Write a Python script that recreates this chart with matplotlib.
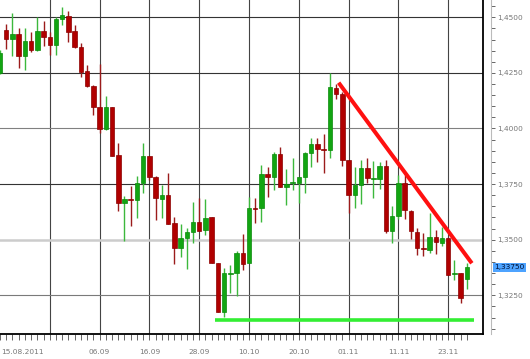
import numpy as np
import pandas as pd
import matplotlib
matplotlib.use("Agg")
import matplotlib.pyplot as plt
import matplotlib.transforms as mtransforms
from matplotlib.ticker import MultipleLocator, FuncFormatter

# daily EUR/USD candles, 15.08.2011 .. 28.11.2011
dates = pd.bdate_range("2011-08-15", "2011-11-28")

opens = [1.4250, 1.4443, 1.4402, 1.4425, 1.4327, 1.4392, 1.4353, 1.4438, 1.4413, 1.4375,
         1.4494, 1.4507, 1.4438, 1.4368, 1.4260, 1.4192, 1.4095, 1.3998, 1.4095, 1.3880,
         1.3664, 1.3684, 1.3679, 1.3754, 1.3876, 1.3783, 1.3684, 1.3702, 1.3574, 1.3464,
         1.3506, 1.3533, 1.3581, 1.3544, 1.3601, 1.3394, 1.3176, 1.3347, 1.3349, 1.3439,
         1.3394, 1.3642, 1.3641, 1.3795, 1.3780, 1.3884, 1.3738, 1.3755, 1.3754, 1.3781,
         1.3891, 1.3929, 1.3907, 1.3903, 1.4184, 1.4154, 1.3858, 1.3701, 1.3746, 1.3824,
         1.3772, 1.3773, 1.3831, 1.3541, 1.3607, 1.3754, 1.3631, 1.3536, 1.3459, 1.3454,
         1.3514, 1.3487, 1.3506, 1.3344, 1.3349, 1.3322]
highs = [1.4352, 1.4470, 1.4518, 1.4451, 1.4451, 1.4434, 1.4500, 1.4483, 1.4433, 1.4500,
         1.4548, 1.4530, 1.4465, 1.4386, 1.4286, 1.4195, 1.4290, 1.4147, 1.4097, 1.3936,
         1.3697, 1.3742, 1.3786, 1.3936, 1.3878, 1.3785, 1.3745, 1.3799, 1.3603, 1.3569,
         1.3551, 1.3671, 1.3686, 1.3682, 1.3601, 1.3394, 1.3372, 1.3386, 1.3451, 1.3526,
         1.3693, 1.3686, 1.3836, 1.3828, 1.3896, 1.3916, 1.3817, 1.3869, 1.3783, 1.3893,
         1.3956, 1.3956, 1.3975, 1.4248, 1.4199, 1.4165, 1.3860, 1.3828, 1.3858, 1.3869,
         1.3854, 1.3851, 1.3858, 1.3652, 1.3791, 1.3791, 1.3632, 1.3551, 1.3529, 1.3621,
         1.3544, 1.3556, 1.3510, 1.3409, 1.3350, 1.3394]
lows = [1.4245, 1.4357, 1.4327, 1.4273, 1.4263, 1.4345, 1.4350, 1.4372, 1.4330, 1.4330,
        1.4465, 1.4388, 1.4361, 1.4230, 1.4185, 1.4061, 1.3978, 1.3993, 1.3875, 1.3630,
        1.3494, 1.3563, 1.3596, 1.3709, 1.3769, 1.3589, 1.3596, 1.3570, 1.3389, 1.3424,
        1.3367, 1.3484, 1.3540, 1.3521, 1.3394, 1.3175, 1.3154, 1.3259, 1.3247, 1.3364,
        1.3394, 1.3574, 1.3581, 1.3691, 1.3724, 1.3735, 1.3656, 1.3724, 1.3664, 1.3709,
        1.3826, 1.3851, 1.3799, 1.3866, 1.4133, 1.3831, 1.3619, 1.3641, 1.3661, 1.3754,
        1.3686, 1.3727, 1.3532, 1.3487, 1.3592, 1.3592, 1.3502, 1.3431, 1.3427, 1.3439,
        1.3436, 1.3472, 1.3342, 1.3319, 1.3217, 1.3277]
closes = [1.4340, 1.4402, 1.4425, 1.4327, 1.4392, 1.4353, 1.4438, 1.4413, 1.4375, 1.4492,
          1.4509, 1.4435, 1.4368, 1.4255, 1.4191, 1.4095, 1.3998, 1.4095, 1.3878, 1.3664,
          1.3683, 1.3679, 1.3756, 1.3876, 1.3783, 1.3686, 1.3702, 1.3571, 1.3464, 1.3506,
          1.3533, 1.3581, 1.3541, 1.3599, 1.3394, 1.3176, 1.3349, 1.3350, 1.3439, 1.3391,
          1.3641, 1.3640, 1.3795, 1.3781, 1.3884, 1.3736, 1.3750, 1.3758, 1.3781, 1.3891,
          1.3930, 1.3907, 1.3902, 1.4185, 1.4154, 1.3858, 1.3701, 1.3746, 1.3824, 1.3776,
          1.3775, 1.3831, 1.3541, 1.3607, 1.3754, 1.3634, 1.3541, 1.3461, 1.3457, 1.3514,
          1.3491, 1.3508, 1.3343, 1.3346, 1.3237, 1.3375]

label_dates = ["2011-09-06", "2011-09-16", "2011-09-28", "2011-10-10",
               "2011-10-20", "2011-11-01", "2011-11-11", "2011-11-23"]
label_texts = ["06.09", "16.09", "28.09", "10.10", "20.10", "01.11", "11.11", "23.11"]
first_label = "15.08.2011"
last_price = 1.3375

# hand drawn lines (bar position, price)
trend_x = [54.4, 75.8]
trend_y = [1.4206, 1.3394]
support_x = [34.6, 76.2]
support_y = 1.3139

O = np.array(opens)
H = np.array(highs)
L = np.array(lows)
C = np.array(closes)
x = np.arange(len(dates))
up = C >= O

fig = plt.figure(figsize=(5.3, 3.59), dpi=100)
ax = fig.add_axes([0, 0.0688, 0.9119, 0.9312])
ylim = (1.30746, 1.45778)

# grid
grid_x = x[8::8]
for g in grid_x:
    ax.axvline(g, color="#444444", lw=0.8, zorder=1)
hlevels = [1.45, 1.425, 1.40, 1.375, 1.35, 1.325]
hcolors = ["#333333", "#333333", "#808080", "#333333", "#cccccc", "#7a7a7a"]
hwidths = [0.8, 0.8, 0.8, 0.8, 1.8, 0.8]
for v, c, w in zip(hlevels, hcolors, hwidths):
    ax.axhline(v, color=c, lw=w, zorder=1)

wick_c = np.where(up, "#3cb83c", "#9b1b1b")
body_c = np.where(up, "#12a512", "#b00000")
edge_c = np.where(up, "#0b8a0b", "#8b0000")
ax.vlines(x, L, H, colors=wick_c, lw=1, zorder=3)
ax.bar(x, np.maximum(np.abs(C - O), 0.0004), bottom=np.minimum(O, C), width=0.72,
       color=body_c, edgecolor=edge_c, linewidth=0.5, zorder=4)

ax.plot(trend_x, trend_y, color="#ff1010", lw=2.9, solid_capstyle="butt", zorder=6)
ax.plot(support_x, [support_y] * 2, color="#33ee33", lw=2.6, solid_capstyle="butt", zorder=6)

ax.set_xlim(0.312, 77.64)
ax.set_ylim(*ylim)
for s in ["left", "top"]:
    ax.spines[s].set_visible(False)
for s in ["right", "bottom"]:
    ax.spines[s].set_color("black")
    ax.spines[s].set_linewidth(1.3)
ax.set_yticks([])
ax.set_xticks(grid_x)
ax.set_xticks(x, minor=True)
ax.tick_params(axis="x", which="both", direction="out", length=4, width=0.7,
               color="#666666", labelbottom=False)

trans = mtransforms.blended_transform_factory(ax.transData, ax.transAxes)
for d, t in zip(label_dates, label_texts):
    pos = dates.get_loc(pd.Timestamp(d))
    ax.text(pos, -0.052, t, transform=trans, ha="center", va="center",
            fontsize=5.3, color="#777777")
ax.text(0.003, -0.052, first_label, transform=ax.transAxes, ha="left", va="center",
        fontsize=5.3, color="#777777")

# price scale
ax2 = fig.add_axes([491 / 530, 0.0688, 1e-4, 0.9312])
ax2.patch.set_visible(False)
ax2.set_ylim(*ylim)
ax2.set_xticks([])
for s in ["top", "bottom", "right"]:
    ax2.spines[s].set_visible(False)
ax2.spines["left"].set_color("#bbbbbb")
ax2.yaxis.tick_right()
ax2.yaxis.set_major_locator(MultipleLocator(0.025))
ax2.yaxis.set_minor_locator(MultipleLocator(0.005))
ax2.yaxis.set_major_formatter(FuncFormatter(lambda v, p: f"{v:.4f}".replace(".", ",")))
ax2.tick_params(axis="y", which="both", direction="out", length=3, width=0.7,
                color="#666666", labelsize=5.3, labelcolor="#777777", pad=1.5)

ptrans = mtransforms.blended_transform_factory(fig.transFigure, ax.transData)
ax.text(494 / 530, last_price, f"{last_price:.5f}".replace(".", ","), transform=ptrans,
        ha="left", va="center", fontsize=5.3, color="#001033", clip_on=False,
        bbox=dict(boxstyle="square,pad=0.2", fc="#4da3ff", ec="none"))

fig.savefig("out.png", dpi=100)
